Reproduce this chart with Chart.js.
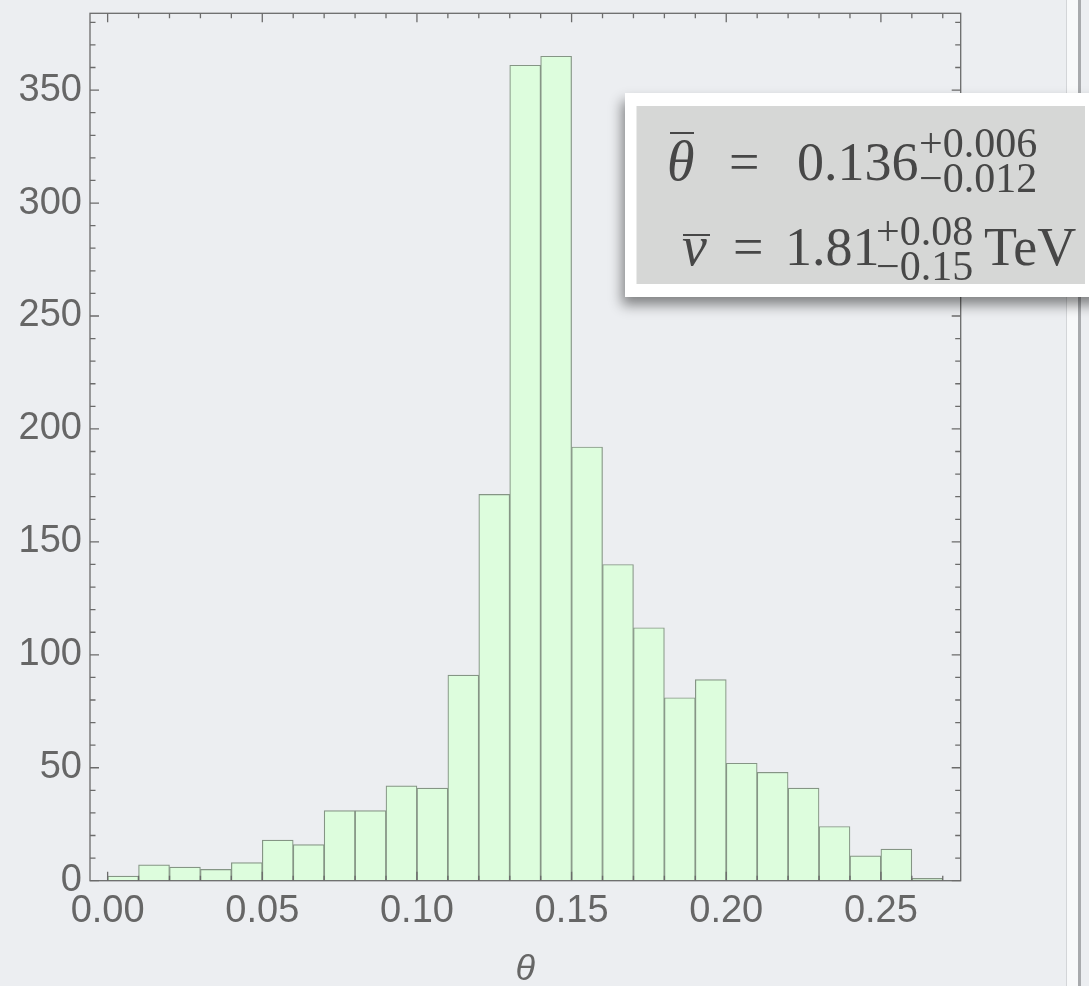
<!DOCTYPE html>
<html>
<head>
<meta charset="utf-8">
<script src="https://cdn.jsdelivr.net/npm/chart.js@4.4.1/dist/chart.umd.min.js"></script>
<style>
  html, body { margin: 0; padding: 0; background: #eceef1; }
  #wrap { position: relative; width: 1089px; height: 986px; overflow: hidden; }
  .strip { position: absolute; top: 0; bottom: 0; }
  #chart { position: absolute; left: 0; top: 0; }
</style>
</head>
<body>
<div id="wrap">
  <div class="strip" style="left:1066px;width:1px;background:#d3d5d8"></div>
  <div class="strip" style="left:1067px;width:11px;background:#f8f9fa"></div>
  <div class="strip" style="left:1078px;width:3px;background:#a8aaad"></div>
  <canvas id="chart" width="1089" height="986"></canvas>
</div>
<script>
// histogram of theta, bins of width 0.01
const binCenters = [0.005, 0.015, 0.025, 0.035, 0.045, 0.055, 0.065, 0.075, 0.085, 0.095,
                    0.105, 0.115, 0.125, 0.135, 0.145, 0.155, 0.165, 0.175, 0.185, 0.195,
                    0.205, 0.215, 0.225, 0.235, 0.245, 0.255, 0.265];
const counts = [2, 7, 6, 5, 8, 18, 16, 31, 31, 42,
                41, 91, 171, 361, 365, 192, 140, 112, 81, 89,
                52, 48, 41, 24, 11, 14, 1];
const xTickValues = [0, 0.05, 0.10, 0.15, 0.20, 0.25];
const yTickValues = [0, 50, 100, 150, 200, 250, 300, 350];
const xRange = [-0.0057, 0.2758];
const yRange = [0, 384];

const axisColor = '#6b6b6b';
const labelFont = { family: 'Liberation Sans', size: 38 };

// Mathematica style frame with inward ticks on all four sides
const framePlugin = {
  id: 'frame',
  afterDatasetsDraw(chart) {
    const { ctx, chartArea: a, scales: { x, y } } = chart;
    ctx.save();
    ctx.strokeStyle = axisColor;
    ctx.lineWidth = 1.3;
    ctx.strokeRect(a.left, a.top, a.right - a.left, a.bottom - a.top);
    ctx.beginPath();
    for (let i = 0; i <= 27; i++) {
      const v = i / 100;
      const px = x.getPixelForValue(v);
      const len = xTickValues.some(t => Math.abs(t - v) < 1e-9) ? 9 : 5;
      ctx.moveTo(px, a.bottom); ctx.lineTo(px, a.bottom - len);
      ctx.moveTo(px, a.top); ctx.lineTo(px, a.top + len);
    }
    for (let v = 0; v <= 380; v += 10) {
      const py = y.getPixelForValue(v);
      const len = v % 50 === 0 ? 9 : 5.5;
      ctx.moveTo(a.left, py); ctx.lineTo(a.left + len, py);
      ctx.moveTo(a.right, py); ctx.lineTo(a.right - len, py);
    }
    ctx.stroke();
    ctx.restore();
  }
};

// the grey result box in the upper right
const resultBox = {
  id: 'resultBox',
  afterDraw(chart) {
    const ctx = chart.ctx;
    ctx.save();
    ctx.shadowColor = 'rgba(0,0,0,0.45)';
    ctx.shadowBlur = 12;
    ctx.shadowOffsetX = -3;
    ctx.shadowOffsetY = 8;
    ctx.fillStyle = '#ffffff';
    ctx.fillRect(625, 93, 480, 204);
    ctx.shadowColor = 'transparent';
    ctx.fillStyle = '#d6d7d6';
    ctx.fillRect(636.5, 106, 448.5, 178);

    ctx.fillStyle = '#474747';
    ctx.textBaseline = 'alphabetic';
    ctx.textAlign = 'left';
    const big = '54px "Liberation Serif"';
    const bigIt = 'italic 56px "Liberation Serif"';
    const small = '42px "Liberation Serif"';

    // line 1
    ctx.font = bigIt; ctx.fillText('θ', 667, 180);
    ctx.fillRect(670, 132, 24, 2);
    ctx.font = big;
    ctx.fillText('=', 729, 180);
    ctx.fillText('0.136', 797, 180);
    ctx.font = small;
    ctx.fillText('+0.006', 919, 157);
    ctx.fillText('−0.012', 919, 192);

    // line 2
    ctx.font = bigIt; ctx.fillText('v', 682, 265);
    ctx.fillRect(683, 234, 27, 2);
    ctx.font = big;
    ctx.fillText('=', 733, 265);
    ctx.fillText('1.81', 785, 265);
    ctx.fillText('TeV', 984, 265);
    ctx.font = small;
    ctx.fillText('+0.08', 876, 245);
    ctx.fillText('−0.15', 876, 280);
    ctx.restore();
  }
};

const ctx = document.getElementById('chart');
new Chart(ctx.getContext('2d'), {
  type: 'bar',
  data: {
    datasets: [{
      data: binCenters.map((c, i) => ({ x: c, y: counts[i] })),
      backgroundColor: '#ddfddd',
      borderColor: '#859585',
      borderWidth: 1.2,
      barPercentage: 1,
      categoryPercentage: 1
    }]
  },
  options: {
    responsive: false,
    animation: false,
    layout: { padding: { top: 13.3, right: 128.3, left: 0, bottom: 0 } },
    plugins: { legend: { display: false }, tooltip: { enabled: false } },
    scales: {
      x: {
        type: 'linear',
        min: xRange[0],
        max: xRange[1],
        offset: false,
        grid: { display: false, drawTicks: false, offset: false },
        border: { display: false },
        afterBuildTicks: s => { s.ticks = xTickValues.map(v => ({ value: v })); },
        afterFit: s => { s.height = 105.3; s.paddingLeft = 0; s.paddingRight = 0; },
        ticks: {
          font: labelFont, color: '#666', padding: 8,
          maxRotation: 0, autoSkip: false,
          callback: v => v.toFixed(2)
        },
        title: {
          display: true, text: 'θ', color: '#666', padding: 0,
          font: { family: 'Liberation Sans', size: 36, style: 'italic', lineHeight: 0.89 }
        }
      },
      y: {
        min: yRange[0],
        max: yRange[1],
        grid: { display: false, drawTicks: false },
        border: { display: false },
        afterBuildTicks: s => { s.ticks = yTickValues.map(v => ({ value: v })); },
        afterFit: s => { s.width = 90; s.paddingTop = 0; s.paddingBottom = 0; },
        ticks: { font: labelFont, color: '#666', padding: 8 }
      }
    }
  },
  plugins: [framePlugin, resultBox]
});
</script>
</body>
</html>
